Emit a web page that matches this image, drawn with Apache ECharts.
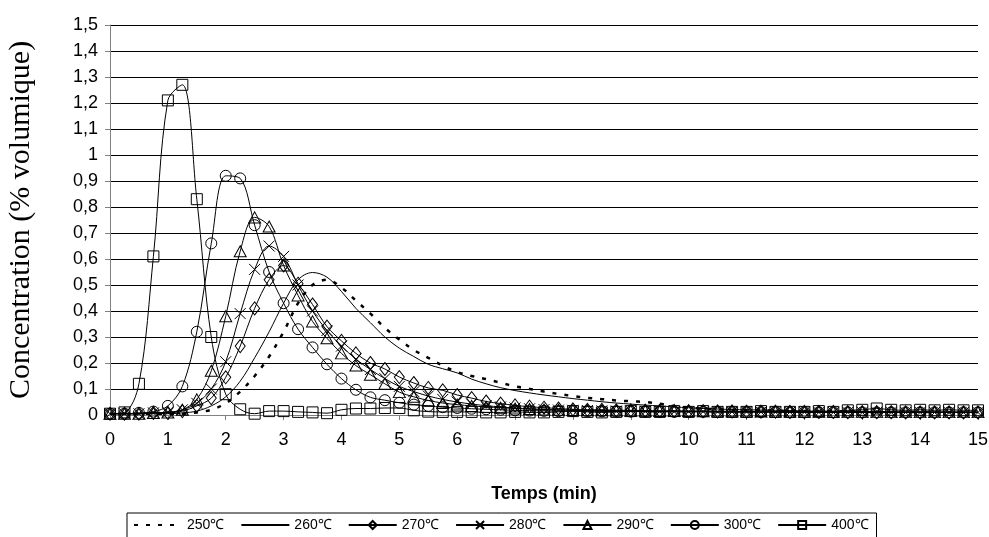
<!DOCTYPE html>
<html>
<head>
<meta charset="UTF-8">
<title>Concentration</title>
<script src="https://cdn.jsdelivr.net/npm/echarts@6/dist/echarts.min.js"></script>
<style>
  html, body { margin: 0; padding: 0; background: #fff; }
  #main { width: 989px; height: 537px; }
</style>
</head>
<body>
<div id="main"></div>
<script type="text/javascript">
// temps (min), pas de 0,25 min
var temps = [0, 0.25, 0.5, 0.75, 1, 1.25, 1.5, 1.75, 2, 2.25, 2.5, 2.75, 3, 3.25, 3.5, 3.75,
  4, 4.25, 4.5, 4.75, 5, 5.25, 5.5, 5.75, 6, 6.25, 6.5, 6.75, 7, 7.25, 7.5, 7.75,
  8, 8.25, 8.5, 8.75, 9, 9.25, 9.5, 9.75, 10, 10.25, 10.5, 10.75, 11, 11.25, 11.5, 11.75,
  12, 12.25, 12.5, 12.75, 13, 13.25, 13.5, 13.75, 14, 14.25, 14.5, 14.75, 15];

var labels = ['250℃', '260℃', '270℃', '280℃', '290℃', '300℃', '400℃'];

var c250 = [0.005, 0.005, 0.005, 0.005, 0.005, 0.005, 0.01, 0.02, 0.045, 0.09, 0.15, 0.225, 0.32, 0.43, 0.50, 0.52,
  0.49, 0.44, 0.39, 0.335, 0.29, 0.25, 0.22, 0.19, 0.165, 0.15, 0.138, 0.124, 0.11, 0.10, 0.09, 0.081,
  0.073, 0.066, 0.061, 0.056, 0.053, 0.05, 0.043, 0.034, 0.028, 0.024, 0.022, 0.02, 0.019, 0.018, 0.017, 0.016,
  0.015, 0.015, 0.014, 0.014, 0.013, 0.013, 0.012, 0.012, 0.012, 0.011, 0.011, 0.011, 0.01];
var c260 = [0.005, 0.005, 0.005, 0.005, 0.005, 0.008, 0.015, 0.035, 0.07, 0.13, 0.22, 0.32, 0.43, 0.52, 0.548, 0.53,
  0.475, 0.41, 0.355, 0.30, 0.257, 0.225, 0.195, 0.178, 0.162, 0.138, 0.12, 0.105, 0.094, 0.085, 0.077, 0.07,
  0.063, 0.057, 0.051, 0.046, 0.042, 0.038, 0.035, 0.031, 0.028, 0.025, 0.023, 0.021, 0.02, 0.019, 0.018, 0.017,
  0.016, 0.015, 0.015, 0.014, 0.014, 0.013, 0.013, 0.012, 0.012, 0.012, 0.011, 0.011, 0.011];
var c270 = [0.005, 0.005, 0.005, 0.008, 0.008, 0.015, 0.035, 0.065, 0.145, 0.265, 0.41, 0.52, 0.575, 0.505, 0.425, 0.34,
  0.285, 0.237, 0.20, 0.177, 0.146, 0.123, 0.104, 0.095, 0.077, 0.065, 0.052, 0.044, 0.037, 0.032, 0.028, 0.025,
  0.022, 0.02, 0.02, 0.018, 0.018, 0.017, 0.016, 0.016, 0.015, 0.015, 0.014, 0.014, 0.013, 0.013, 0.013, 0.012,
  0.012, 0.012, 0.012, 0.011, 0.011, 0.011, 0.011, 0.01, 0.01, 0.01, 0.01, 0.01, 0.01];
var c280 = [0.005, 0.005, 0.005, 0.008, 0.01, 0.02, 0.045, 0.10, 0.205, 0.39, 0.56, 0.65, 0.61, 0.50, 0.40, 0.325,
  0.265, 0.215, 0.175, 0.14, 0.11, 0.09, 0.073, 0.06, 0.05, 0.042, 0.036, 0.031, 0.027, 0.024, 0.021, 0.019,
  0.018, 0.017, 0.016, 0.015, 0.015, 0.014, 0.014, 0.013, 0.013, 0.013, 0.012, 0.012, 0.012, 0.011, 0.011, 0.011,
  0.011, 0.01, 0.01, 0.01, 0.01, 0.01, 0.01, 0.01, 0.01, 0.01, 0.01, 0.01, 0.01];
var c290 = [0.005, 0.005, 0.005, 0.008, 0.01, 0.02, 0.06, 0.17, 0.38, 0.63, 0.76, 0.725, 0.575, 0.46, 0.36, 0.295,
  0.237, 0.19, 0.155, 0.12, 0.088, 0.07, 0.056, 0.046, 0.04, 0.035, 0.031, 0.028, 0.025, 0.023, 0.021, 0.02,
  0.019, 0.018, 0.018, 0.017, 0.016, 0.016, 0.015, 0.015, 0.015, 0.014, 0.014, 0.014, 0.013, 0.013, 0.013, 0.013,
  0.012, 0.012, 0.012, 0.012, 0.012, 0.012, 0.011, 0.011, 0.011, 0.011, 0.011, 0.011, 0.011];
var c300 = [0.005, 0.005, 0.008, 0.013, 0.035, 0.11, 0.32, 0.66, 0.92, 0.91, 0.73, 0.55, 0.43, 0.33, 0.26, 0.195,
  0.14, 0.097, 0.068, 0.057, 0.047, 0.04, 0.035, 0.03, 0.027, 0.024, 0.022, 0.02, 0.018, 0.017, 0.016, 0.015,
  0.015, 0.014, 0.014, 0.013, 0.013, 0.013, 0.012, 0.012, 0.012, 0.012, 0.011, 0.011, 0.011, 0.011, 0.011, 0.01,
  0.01, 0.01, 0.01, 0.01, 0.01, 0.01, 0.01, 0.01, 0.01, 0.01, 0.01, 0.01, 0.01];
var c400 = [0.005, 0.01, 0.12, 0.61, 1.21, 1.27, 0.83, 0.30, 0.08, 0.022, 0.005, 0.015, 0.015, 0.012, 0.01, 0.007,
  0.02, 0.025, 0.025, 0.027, 0.027, 0.018, 0.013, 0.012, 0.012, 0.012, 0.01, 0.01, 0.012, 0.01, 0.01, 0.012,
  0.015, 0.012, 0.01, 0.012, 0.015, 0.012, 0.012, 0.015, 0.012, 0.015, 0.012, 0.012, 0.012, 0.015, 0.012, 0.012,
  0.012, 0.015, 0.012, 0.018, 0.02, 0.025, 0.02, 0.018, 0.02, 0.018, 0.02, 0.018, 0.018];

var yTicks = ['0', '0,1', '0,2', '0,3', '0,4', '0,5', '0,6', '0,7', '0,8', '0,9', '1', '1,1', '1,2', '1,3', '1,4', '1,5'];

var myChart = echarts.init(document.getElementById('main'));

function pairs(vals) {
  var out = [];
  for (var i = 0; i < temps.length; i++) out.push([temps[i], vals[i]]);
  return out;
}

function serie(name, vals, symbol, size, dotted) {
  var noMark = symbol === 'none';
  return {
    name: name,
    type: 'line',
    smooth: 0.35,
    data: pairs(vals),
    symbol: noMark ? 'circle' : symbol,
    symbolSize: noMark ? 0 : size,
    showAllSymbol: true,
    showSymbol: !noMark,
    lineStyle: { color: '#000', width: dotted ? 2.5 : 1, type: dotted ? [4, 8] : 'solid' },
    itemStyle: noMark
      ? { color: 'rgba(0,0,0,0)', borderColor: 'rgba(0,0,0,0)', borderWidth: 0 }
      : { color: 'rgba(255,255,255,0)', borderColor: '#000', borderWidth: 1 },
    emphasis: { disabled: true }
  };
}

var option = {
  animation: false,
  backgroundColor: '#fff',
  grid: { left: 110, right: 11, top: 25, bottom: 122, outerBoundsMode: 'none' },
  legend: {
    left: 127,
    top: 513,
    borderColor: '#000',
    borderWidth: 1,
    borderRadius: 0,
    padding: [5, 8, 10, 6],
    itemGap: 16,
    itemWidth: 48,
    itemHeight: 10,
    textStyle: { fontFamily: 'Liberation Sans', fontSize: 14, color: '#000' },
    data: labels
  },
  xAxis: {
    type: 'value',
    min: 0,
    max: 15,
    interval: 1,
    name: 'Temps (min)',
    nameLocation: 'middle',
    nameGap: 70,
    nameTextStyle: { fontFamily: 'Liberation Sans', fontSize: 18, fontWeight: 'bold', color: '#000' },
    axisLine: { show: true, lineStyle: { color: '#808080' } },
    axisTick: { show: true, length: 5, lineStyle: { color: '#808080' } },
    axisLabel: { fontFamily: 'Liberation Sans', fontSize: 18, color: '#000', margin: 16 },
    splitLine: { show: false }
  },
  yAxis: {
    type: 'value',
    min: 0,
    max: 1.5,
    interval: 0.1,
    name: 'Concentration (% volumique)',
    nameLocation: 'middle',
    nameGap: 74,
    nameTextStyle: { fontFamily: 'Liberation Serif', fontSize: 30, color: '#000' },
    axisLine: { show: true, lineStyle: { color: '#808080' } },
    axisTick: { show: true, length: 5, lineStyle: { color: '#808080' } },
    axisLabel: {
      fontFamily: 'Liberation Sans', fontSize: 18, color: '#000', margin: 12,
      formatter: function (v) { return yTicks[Math.round(v * 10)]; }
    },
    splitLine: { show: true, lineStyle: { color: '#000', width: 1 } }
  },
  series: [
    serie(labels[0], c250, 'none', 0, true),
    serie(labels[1], c260, 'none', 0, false),
    serie(labels[2], c270, 'diamond', [10, 13], false),
    serie(labels[3], c280, 'path://M0,0L10,10M10,0L0,10', 11, false),
    serie(labels[4], c290, 'triangle', [12, 11], false),
    serie(labels[5], c300, 'circle', 11, false),
    serie(labels[6], c400, 'rect', 11, false)
  ]
};

myChart.setOption(option);
</script>
</body>
</html>
